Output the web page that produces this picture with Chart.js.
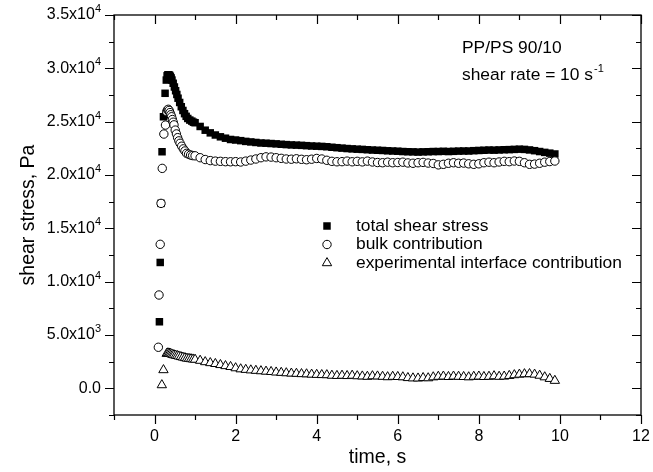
<!DOCTYPE html>
<html>
<head>
<meta charset="utf-8">
<script src="https://cdn.jsdelivr.net/npm/chart.js@4.4.1/dist/chart.umd.min.js"></script>
<style>
  html, body { margin: 0; padding: 0; background: #fff; }
  #wrap { width: 653px; height: 472px; }
</style>
</head>
<body>
<div id="wrap"><canvas id="stressChart" width="653" height="472"></canvas></div>
<script>
// ── values ───────────────────────────────────────────
// start-up (t < 1 s), each series has its own sampling
const totalEarlyTime   = [0.12, 0.14, 0.16, 0.185, 0.22, 0.26, 0.29, 0.31, 0.33, 0.35, 0.37, 0.39, 0.41, 0.43, 0.46, 0.49, 0.52, 0.55, 0.58, 0.62, 0.66, 0.70, 0.74, 0.78, 0.82, 0.87, 0.92, 0.96];
const totalEarlyStress = [6240, 11800, 17340, 22180, 25460, 27660, 28900, 29300, 29400, 29400, 29350, 29250, 29100, 28900, 28600, 28250, 27900, 27550, 27200, 26800, 26400, 26050, 25750, 25500, 25300, 25150, 25050, 24950];

const bulkEarlyTime   = [0.094, 0.11, 0.14, 0.16, 0.19, 0.23, 0.27, 0.30, 0.32, 0.34, 0.36, 0.38, 0.40, 0.42, 0.44, 0.46, 0.48, 0.51, 0.54, 0.57, 0.60, 0.63, 0.67, 0.71, 0.75, 0.79, 0.84, 0.89, 0.94];
const bulkEarlyStress = [3850, 8750, 13500, 17340, 20620, 23840, 24680, 25930, 26100, 26160, 26050, 25850, 25650, 25460, 25200, 24950, 24700, 24210, 23850, 23500, 23200, 22970, 22700, 22450, 22250, 22030, 21950, 21870, 21820];

const ifaceEarlyTime   = [0.18, 0.22, 0.30, 0.33, 0.36, 0.39, 0.42, 0.45, 0.48, 0.52, 0.56, 0.60, 0.65, 0.70, 0.75, 0.80, 0.85, 0.90, 0.95];
const ifaceEarlyStress = [310, 1720, 3250, 3300, 3280, 3250, 3200, 3150, 3120, 3080, 3050, 3000, 2950, 2900, 2850, 2800, 2780, 2750, 2720];

// steady part, shared sampling
const lateTime = [1.000, 1.125, 1.250, 1.375, 1.500, 1.625, 1.750, 1.875,
                  2.000, 2.125, 2.250, 2.375, 2.500, 2.625, 2.750, 2.875,
                  3.000, 3.125, 3.250, 3.375, 3.500, 3.625, 3.750, 3.875,
                  4.000, 4.125, 4.250, 4.375, 4.500, 4.625, 4.750, 4.875,
                  5.000, 5.125, 5.250, 5.375, 5.500, 5.625, 5.750, 5.875,
                  6.000, 6.125, 6.250, 6.375, 6.500, 6.625, 6.750, 6.875,
                  7.000, 7.125, 7.250, 7.375, 7.500, 7.625, 7.750, 7.875,
                  8.000, 8.125, 8.250, 8.375, 8.500, 8.625, 8.750, 8.875,
                  9.000, 9.125, 9.250, 9.375, 9.500, 9.625, 9.750, 9.875];

const totalLateStress = [24900, 24550, 24200, 23950, 23750, 23580, 23450, 23330,
                         23280, 23220, 23150, 23100, 23050, 23000, 22980, 22950,
                         22920, 22880, 22850, 22820, 22800, 22780, 22750, 22720,
                         22700, 22680, 22650, 22600, 22560, 22520, 22480, 22450,
                         22420, 22400, 22370, 22340, 22320, 22300, 22270, 22250,
                         22230, 22200, 22180, 22170, 22150, 22170, 22180, 22200,
                         22200, 22220, 22200, 22220, 22240, 22250, 22250, 22280,
                         22300, 22320, 22340, 22330, 22350, 22370, 22380, 22400,
                         22420, 22400, 22350, 22280, 22200, 22120, 22050, 21970];

const bulkLateStress = [21800, 21620, 21450, 21350, 21300, 21280, 21250, 21240,
                        21250, 21220, 21300, 21400, 21500, 21620, 21700, 21680,
                        21620, 21560, 21500, 21480, 21520, 21470, 21430, 21480,
                        21550, 21500, 21380, 21280, 21240, 21250, 21300, 21240,
                        21280, 21230, 21300, 21220, 21170, 21150, 21200, 21150,
                        21170, 21200, 21130, 21100, 21150, 21180, 21120, 21080,
                        20950, 21000, 21100, 21150, 21100, 21120, 21050, 21000,
                        21050, 21150, 21200, 21150, 21220, 21280, 21250, 21310,
                        21280, 21150, 21000, 21020, 21100, 21200, 21260, 21310];

const ifaceLateStress = [2700, 2600, 2470, 2380, 2300, 2200, 2100, 2020,
                         1900, 1800, 1750, 1700, 1660, 1620, 1580, 1550,
                         1500, 1470, 1430, 1400, 1380, 1350, 1330, 1300,
                         1280, 1260, 1250, 1200, 1180, 1200, 1170, 1200,
                         1150, 1130, 1100, 1150, 1130, 1100, 1060, 1100,
                         1080, 1050, 980, 950, 940, 980, 960, 1050,
                         1100, 1120, 1080, 1120, 1100, 1080, 1050, 1100,
                         1120, 1080, 1100, 1150, 1100, 1120, 1180, 1250,
                         1300, 1340, 1350, 1300, 1200, 1050, 900, 720];

// axes
const xMajorTicks = [0, 2, 4, 6, 8, 10, 12];
const xMinorTicks = [-1, 1, 3, 5, 7, 9, 11];
const yMajorTicks = [0, 5000, 10000, 15000, 20000, 25000, 30000, 35000];
const yMinorTicks = [-2500, 2500, 7500, 12500, 17500, 22500, 27500, 32500];
const yTickBase = ['0.0', '5.0x10', '1.0x10', '1.5x10', '2.0x10', '2.5x10', '3.0x10', '3.5x10'];
const yTickExp  = ['', '3', '4', '4', '4', '4', '4', '4'];

const seriesLabels = ['total shear stress', 'bulk contribution', 'experimental interface contribution'];

const FONT = '"Liberation Sans", Arial, Helvetica, sans-serif';

function toPoints(times, values) {
    return times.map((t, i) => ({ x: t, y: values[i] }));
}

const markers = [
    { pointStyle: 'rect', radius: 5.3, backgroundColor: '#000', borderColor: '#000', borderWidth: 0 },
    { pointStyle: 'circle', radius: 4.2, backgroundColor: '#fff', borderColor: '#000', borderWidth: 1 },
    { pointStyle: 'triangle', radius: 5.4, backgroundColor: '#fff', borderColor: '#000', borderWidth: 1 }
];

// ── frame, ticks and all text ─────────────────────────
const framePlugin = {
    id: 'framePlugin',
    afterDatasetsDraw(chart) {
        const { ctx, chartArea: a, scales: { x, y } } = chart;
        ctx.save();
        ctx.strokeStyle = '#000';
        ctx.fillStyle = '#000';
        ctx.lineWidth = 1.3;
        ctx.strokeRect(a.left, a.top, a.right - a.left, a.bottom - a.top);

        const MAJ = 9, MIN = 5;
        ctx.lineWidth = 1.2;
        ctx.beginPath();
        xMajorTicks.concat(xMinorTicks).forEach(v => {
            const px = Math.round(x.getPixelForValue(v)) + 0.5;
            const len = xMajorTicks.includes(v) ? MAJ : MIN;
            ctx.moveTo(px, a.bottom); ctx.lineTo(px, a.bottom + len);   // outward
            ctx.moveTo(px, a.top);    ctx.lineTo(px, a.top + len);      // inward
        });
        yMajorTicks.concat(yMinorTicks).forEach(v => {
            const py = Math.round(y.getPixelForValue(v)) + 0.5;
            const len = yMajorTicks.includes(v) ? MAJ : MIN;
            ctx.moveTo(a.left, py);  ctx.lineTo(a.left - len, py);      // outward
            ctx.moveTo(a.right, py); ctx.lineTo(a.right - len, py);     // inward
        });
        ctx.stroke();

        // x tick labels
        ctx.font = '16px ' + FONT;
        ctx.textAlign = 'center';
        ctx.textBaseline = 'middle';
        xMajorTicks.forEach(v => ctx.fillText(String(v), x.getPixelForValue(v), a.bottom + 22));

        // y tick labels with superscript exponent
        const labelRight = a.left - 13;
        yMajorTicks.forEach((v, i) => {
            const py = y.getPixelForValue(v);
            ctx.font = '11px ' + FONT;
            const expW = yTickExp[i] ? ctx.measureText(yTickExp[i]).width : 0;
            ctx.textAlign = 'left';
            if (yTickExp[i]) ctx.fillText(yTickExp[i], labelRight - expW, py - 6);
            ctx.font = '16px ' + FONT;
            ctx.textAlign = 'right';
            ctx.fillText(yTickBase[i], labelRight - expW, py);
        });

        // axis titles
        ctx.font = '19.5px ' + FONT;
        ctx.textAlign = 'center';
        ctx.fillText('time, s', (a.left + a.right) / 2, 458);
        ctx.save();
        ctx.translate(29, (a.top + a.bottom) / 2);
        ctx.rotate(-Math.PI / 2);
        ctx.fillText('shear stress, Pa', 0, 0);
        ctx.restore();

        // legend
        const legX = 327, legY = 226, legStep = 18.5;
        seriesLabels.forEach((lbl, i) => {
            const m = markers[i];
            ctx.fillStyle = m.backgroundColor;
            ctx.strokeStyle = m.borderColor;
            ctx.lineWidth = m.borderWidth;
            Chart.helpers.drawPoint(ctx, { pointStyle: m.pointStyle, radius: m.radius, rotation: 0, borderWidth: m.borderWidth }, legX, legY + i * legStep);
            ctx.fillStyle = '#000';
            ctx.font = '17.4px ' + FONT;
            ctx.textAlign = 'left';
            ctx.fillText(lbl, 356, legY + i * legStep);
        });

        // sample annotation
        ctx.font = '17.4px ' + FONT;
        ctx.textAlign = 'left';
        ctx.fillText('PP/PS 90/10', 462, 48);
        const s = 'shear rate = 10 s';
        ctx.fillText(s, 462, 75);
        const sw = ctx.measureText(s).width;
        ctx.font = '11px ' + FONT;
        ctx.fillText('-1', 462 + sw + 1, 69);
        ctx.restore();
    }
};

new Chart(document.getElementById('stressChart'), {
    type: 'scatter',
    data: {
        datasets: [
            { label: seriesLabels[0], data: toPoints(totalEarlyTime.concat(lateTime), totalEarlyStress.concat(totalLateStress)), order: 3, ...markers[0] },
            { label: seriesLabels[1], data: toPoints(bulkEarlyTime.concat(lateTime), bulkEarlyStress.concat(bulkLateStress)), order: 2, ...markers[1] },
            { label: seriesLabels[2], data: toPoints(ifaceEarlyTime.concat(lateTime), ifaceEarlyStress.concat(ifaceLateStress)), order: 1, ...markers[2] }
        ].map(d => ({ ...d, pointRadius: d.radius, pointHoverRadius: d.radius, showLine: false }))
    },
    options: {
        responsive: false,
        animation: false,
        layout: { padding: { left: 114, right: 12, top: 15, bottom: 57 } },
        scales: {
            x: { type: 'linear', min: -1, max: 12, display: false },
            y: { type: 'linear', min: -2500, max: 35000, display: false }
        },
        plugins: { legend: { display: false }, tooltip: { enabled: false } }
    },
    plugins: [framePlugin]
});
</script>
</body>
</html>
